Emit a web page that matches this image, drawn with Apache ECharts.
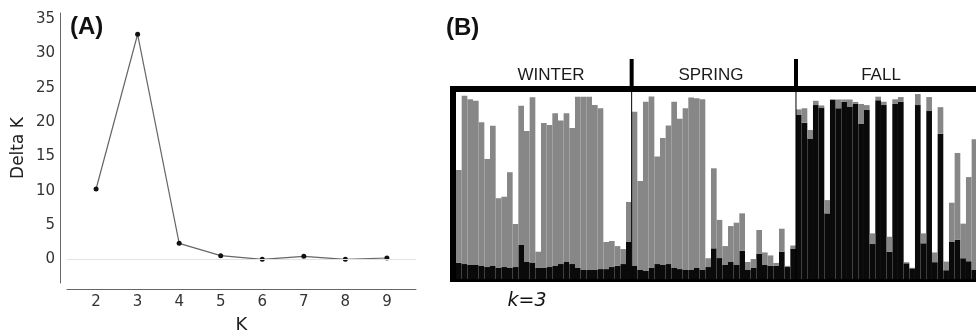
<!DOCTYPE html>
<html>
<head>
<meta charset="utf-8">
<script src="https://cdn.jsdelivr.net/npm/echarts@6/dist/echarts.min.js"></script>
<style>
  html, body { margin: 0; padding: 0; background: #fff; }
  #main { width: 976px; height: 332px; }
</style>
</head>
<body>
<div id="main"></div>
<script>
// (A) Delta K vs K
const kValues = [2, 3, 4, 5, 6, 7, 8, 9];
const deltaK = [10.25, 32.8, 2.33, 0.53, 0.0, 0.44, 0.0, 0.19];
const yTicks = [0, 5, 10, 15, 20, 25, 30, 35];

// (B) membership per individual, k=3 (black = cluster 1, gray = cluster 2, white = the rest)
const groups = ["WINTER", "SPRING", "FALL"];
const winterBlack = [0.087, 0.080, 0.075, 0.075, 0.070, 0.064, 0.070, 0.059, 0.064, 0.059, 0.064, 0.182, 0.091, 0.086, 0.059, 0.059,
  0.064, 0.070, 0.080, 0.091, 0.080, 0.059, 0.048, 0.048, 0.048, 0.053, 0.053, 0.064, 0.070, 0.080, 0.200];
const winterGray = [0.496, 0.900, 0.886, 0.878, 0.768, 0.578, 0.750, 0.373, 0.376, 0.512, 0.230, 0.745, 0.700, 0.886, 0.087, 0.775,
  0.760, 0.816, 0.767, 0.795, 0.727, 0.916, 0.927, 0.927, 0.882, 0.860, 0.145, 0.139, 0.106, 0.080, 0.212];
const springBlack = [0.070, 0.048, 0.043, 0.059, 0.080, 0.075, 0.080, 0.059, 0.053, 0.048, 0.048, 0.059, 0.048, 0.064, 0.164,
  0.112, 0.075, 0.091, 0.075, 0.151, 0.048, 0.059, 0.134, 0.075, 0.070, 0.070, 0.146, 0.064, 0.163];
const springGray = [0.825, 0.476, 0.905, 0.917, 0.575, 0.679, 0.741, 0.889, 0.804, 0.865, 0.923, 0.907, 0.913, 0.047, 0.428,
  0.204, 0.101, 0.192, 0.226, 0.200, 0.043, 0.048, 0.128, 0.067, 0.056, 0.016, 0.123, 0.006, 0.016];
const fallBlack = [0.877, 0.836, 0.752, 0.930, 0.914, 0.351, 0.957, 0.913, 0.948, 0.922, 0.936, 0.829, 0.904, 0.187, 0.956, 0.930,
  0.146, 0.936, 0.947, 0.084, 0.057, 0.930, 0.191, 0.898, 0.090, 0.777, 0.047, 0.198, 0.209, 0.111, 0.095, 0.048];
const fallGray = [0.030, 0.077, 0.045, 0.023, 0.014, 0.071, 0.004, 0.047, 0.012, 0.038, 0.011, 0.107, 0.026, 0.057, 0.019, 0.018,
  0.080, 0.025, 0.026, 0.006, 0.003, 0.059, 0.053, 0.075, 0.052, 0.142, 0.046, 0.210, 0.465, 0.185, 0.450, 0.699];

const black = winterBlack.concat(springBlack, fallBlack);
const gray = winterGray.concat(springGray, fallGray);
const individuals = black.map((v, i) => String(i + 1));

const chart = echarts.init(document.getElementById("main"));

const option = {
  animation: false,
  grid: [
    { left: 67, top: 13, width: 349, height: 270, outerBoundsMode: "none" },
    // last individual is cut by the figure edge, as in the source
    { left: 456, top: 92, width: 521.3, height: 187, outerBoundsMode: "none" }
  ],
  xAxis: [
    {
      type: "value", gridIndex: 0, min: 1.3, max: 9.7, offset: 6,
      axisLine: { show: true, onZero: false, lineStyle: { color: "#666", width: 1 } },
      axisTick: { show: false },
      splitLine: { show: false },
      axisLabel: { customValues: kValues, color: "#333", fontSize: 15, fontFamily: "DejaVu Sans", margin: 6 },
      name: "K", nameLocation: "middle", nameGap: 27,
      nameTextStyle: { color: "#222", fontSize: 18, fontFamily: "DejaVu Sans" }
    },
    {
      type: "category", gridIndex: 1, data: individuals, show: false
    }
  ],
  yAxis: [
    {
      type: "value", gridIndex: 0, min: -3.45, max: 35.9, offset: 7,
      axisLine: { show: true, onZero: false, lineStyle: { color: "#666", width: 1 } },
      axisTick: { show: false },
      splitLine: { show: false },
      axisLabel: { customValues: yTicks, color: "#333", fontSize: 15, fontFamily: "DejaVu Sans", margin: 5 },
      name: "Delta K", nameLocation: "middle", nameGap: 33, nameRotate: 90,
      nameTextStyle: { color: "#222", fontSize: 17, fontFamily: "DejaVu Sans" }
    },
    { type: "value", gridIndex: 1, min: 0, max: 1, show: false }
  ],
  series: [
    {
      type: "line", xAxisIndex: 0, yAxisIndex: 0,
      data: kValues.map((k, i) => [k, deltaK[i]]),
      symbol: "circle", symbolSize: 5,
      lineStyle: { color: "#666", width: 1.2 },
      itemStyle: { color: "#111" },
      markLine: {
        silent: true, symbol: "none", label: { show: false },
        lineStyle: { color: "#e2e2e2", width: 1, type: "solid" },
        data: [{ yAxis: 0 }]
      },
      z: 3
    },
    {
      type: "bar", xAxisIndex: 1, yAxisIndex: 1, stack: "q",
      data: black, barCategoryGap: "0%",
      itemStyle: { color: "#0a0a0a" }
    },
    {
      type: "bar", xAxisIndex: 1, yAxisIndex: 1, stack: "q",
      data: gray, barCategoryGap: "0%",
      itemStyle: { color: "#878787" }
    }
  ]
};

chart.setOption(option);

// group dividers sit between individuals
function between(i) {
  const a = chart.convertToPixel({ xAxisIndex: 1 }, individuals[i - 1]);
  const b = chart.convertToPixel({ xAxisIndex: 1 }, individuals[i]);
  return (a + b) / 2;
}
const d1 = between(winterBlack.length);
const d2 = between(winterBlack.length + springBlack.length);

const labelStyle = { fontSize: 17, fontFamily: "Liberation Sans", fill: "#1a1a1a", align: "center", verticalAlign: "middle" };

chart.setOption({
  graphic: [
    { type: "text", left: 70, top: 15, style: { text: "(A)", fontSize: 24, fontWeight: "bold", fontFamily: "Liberation Sans", fill: "#111" } },
    { type: "text", left: 446, top: 16, style: { text: "(B)", fontSize: 24, fontWeight: "bold", fontFamily: "Liberation Sans", fill: "#111" } },
    // frame
    { type: "rect", shape: { x: 450, y: 86, width: 526, height: 6 }, style: { fill: "#000" }, z: 10 },
    { type: "rect", shape: { x: 450, y: 86, width: 6, height: 196 }, style: { fill: "#000" }, z: 10 },
    { type: "rect", shape: { x: 450, y: 279, width: 526, height: 3 }, style: { fill: "#000" }, z: 10 },
    // dividers
    { type: "rect", shape: { x: d1 - 2, y: 59, width: 4, height: 30 }, style: { fill: "#000" } },
    { type: "rect", shape: { x: d2 - 2, y: 59, width: 4, height: 30 }, style: { fill: "#000" } },
    { type: "line", shape: { x1: d1, y1: 92, x2: d1, y2: 279 }, style: { stroke: "#000", lineWidth: 1 }, z: 10 },
    { type: "line", shape: { x1: d2, y1: 92, x2: d2, y2: 279 }, style: { stroke: "#000", lineWidth: 1 }, z: 10 },
    // group names
    { type: "text", x: 551, y: 75, style: Object.assign({ text: groups[0] }, labelStyle) },
    { type: "text", x: 711, y: 75, style: Object.assign({ text: groups[1] }, labelStyle) },
    { type: "text", x: 881, y: 75, style: Object.assign({ text: groups[2] }, labelStyle) },
    { type: "text", x: 527, y: 301, style: { text: "k=3", fontSize: 19, fontStyle: "italic", fontFamily: "DejaVu Sans", fill: "#111", align: "center", verticalAlign: "middle" } }
  ]
});

window.addEventListener("resize", () => chart.resize());
</script>
</body>
</html>
